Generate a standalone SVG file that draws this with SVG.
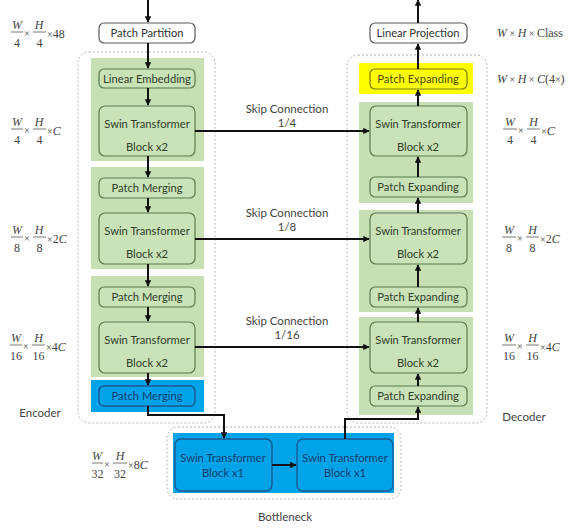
<svg xmlns="http://www.w3.org/2000/svg" width="580" height="529" viewBox="0 0 580 529">
<defs>
<marker id="ah" viewBox="0 0 10 10" refX="9" refY="5" markerWidth="3.2" markerHeight="3.2" orient="auto" markerUnits="strokeWidth">
<path d="M0,0 L10,5 L0,10 z" fill="#111"/>
</marker>
<style>
.bg{fill:#ffffff}
.dash{fill:none;stroke:#b4b4b4;stroke-width:1;stroke-dasharray:2 2}
.pg{fill:#c6e0b4}
.pb{fill:#00a2e8}
.py{fill:#ffff00}
.bw{fill:#ffffff;stroke:#595959;stroke-width:1.2}
.bgn{fill:#c9e2b8;stroke:#5a7a4e;stroke-width:1.2}
.bbl{fill:#00a2e8;stroke:#1c5a94;stroke-width:1.4}
.byl{fill:#ffff00;stroke:#7a7a10;stroke-width:1.2}
.t{font-family:Lato,"Liberation Sans",sans-serif;font-size:11.2px;fill:#333;text-anchor:middle}
.tg{fill:#2f3f2a}
.tb{fill:#0f3f70}
.ty{fill:#4a4a10}
.lab{font-family:Lato,"Liberation Sans",sans-serif;font-size:11.5px;fill:#444;text-anchor:middle}
.m{font-family:"Liberation Serif",serif;font-size:12px;fill:#444}
.mi{font-style:italic}
.mc{text-anchor:middle}
.x{font-size:10px}
.fb{stroke:#555;stroke-width:0.8}
.c{fill:none;stroke:#111;stroke-width:2;marker-end:url(#ah)}
</style>
</defs>
<rect class="bg" x="0" y="0" width="580" height="529"/>

<!-- containers -->
<g id="encoder-frame">
<rect class="dash" x="78" y="52" width="137" height="371" rx="11"/>
<text class="lab" x="40" y="417">Encoder</text>
</g>
<g id="decoder-frame">
<rect class="dash" x="347" y="55" width="140" height="368" rx="11"/>
<text class="lab" x="524" y="421">Decoder</text>
</g>
<g id="bottleneck-frame">
<rect class="dash" x="167" y="427" width="234" height="72" rx="11"/>
<rect class="pb" x="173" y="433" width="221" height="60"/>
<text class="lab" x="285" y="521">Bottleneck</text>
</g>

<!-- panels -->
<g id="enc-panels">
<rect class="pg" x="91" y="58" width="113" height="103"/>
<rect class="pg" x="91" y="167" width="113" height="102"/>
<rect class="pg" x="91" y="276" width="113" height="101"/>
<rect class="pb" x="91" y="380" width="113" height="32"/>
</g>
<g id="dec-panels">
<rect class="py" x="359" y="63" width="114" height="31"/>
<rect class="pg" x="359" y="102" width="114" height="101"/>
<rect class="pg" x="359" y="210" width="114" height="102"/>
<rect class="pg" x="359" y="317" width="114" height="98"/>
</g>

<!-- encoder nodes -->
<g id="patch-partition"><rect class="bw" x="99" y="23" width="96" height="20" rx="5"/><text class="t" x="147" y="37">Patch Partition</text></g>
<g id="linear-embedding"><rect class="bgn" x="99" y="69" width="96" height="19" rx="5"/><text class="t tg" x="147" y="82.5">Linear Embedding</text></g>
<g id="enc-swin1"><rect class="bgn" x="99" y="106" width="96" height="50" rx="6"/><text class="t tg" x="147" y="128">Swin Transformer</text><text class="t tg" x="147" y="151">Block x2</text></g>
<g id="enc-merge1"><rect class="bgn" x="99" y="178" width="96" height="20" rx="5"/><text class="t tg" x="147" y="192">Patch Merging</text></g>
<g id="enc-swin2"><rect class="bgn" x="99" y="213" width="96" height="51" rx="6"/><text class="t tg" x="147" y="235">Swin Transformer</text><text class="t tg" x="147" y="258">Block x2</text></g>
<g id="enc-merge2"><rect class="bgn" x="99" y="287" width="96" height="20" rx="5"/><text class="t tg" x="147" y="301">Patch Merging</text></g>
<g id="enc-swin3"><rect class="bgn" x="99" y="322" width="96" height="51" rx="6"/><text class="t tg" x="147" y="344">Swin Transformer</text><text class="t tg" x="147" y="367">Block x2</text></g>
<g id="enc-merge3"><rect class="bbl" x="99" y="386" width="96" height="20" rx="5"/><text class="t tb" x="147" y="400">Patch Merging</text></g>

<!-- bottleneck nodes -->
<g id="bottleneck-swin1"><rect class="bbl" x="175" y="439" width="97" height="52" rx="6"/><text class="t tb" x="223" y="462">Swin Transformer</text><text class="t tb" x="223" y="477">Block x1</text></g>
<g id="bottleneck-swin2"><rect class="bbl" x="297" y="439" width="96" height="52" rx="6"/><text class="t tb" x="345" y="462">Swin Transformer</text><text class="t tb" x="345" y="477">Block x1</text></g>

<!-- decoder nodes -->
<g id="linear-projection"><rect class="bw" x="370" y="23" width="97" height="20" rx="5"/><text class="t" x="418" y="37">Linear Projection</text></g>
<g id="dec-expand0"><rect class="byl" x="370" y="69" width="97" height="20" rx="5"/><text class="t ty" x="418" y="83">Patch Expanding</text></g>
<g id="dec-swin1"><rect class="bgn" x="370" y="106" width="97" height="50" rx="6"/><text class="t tg" x="418" y="128">Swin Transformer</text><text class="t tg" x="418" y="151">Block x2</text></g>
<g id="dec-expand1"><rect class="bgn" x="370" y="177" width="97" height="20" rx="5"/><text class="t tg" x="418" y="191">Patch Expanding</text></g>
<g id="dec-swin2"><rect class="bgn" x="370" y="213" width="97" height="51" rx="6"/><text class="t tg" x="418" y="235">Swin Transformer</text><text class="t tg" x="418" y="258">Block x2</text></g>
<g id="dec-expand2"><rect class="bgn" x="370" y="287" width="97" height="20" rx="5"/><text class="t tg" x="418" y="301">Patch Expanding</text></g>
<g id="dec-swin3"><rect class="bgn" x="370" y="322" width="97" height="51" rx="6"/><text class="t tg" x="418" y="344">Swin Transformer</text><text class="t tg" x="418" y="367">Block x2</text></g>
<g id="dec-expand3"><rect class="bgn" x="370" y="386" width="97" height="20" rx="5"/><text class="t tg" x="418" y="400">Patch Expanding</text></g>

<!-- connectors -->
<g id="connectors">
<path class="c" d="M148,0 V22"/>
<path class="c" d="M148,43 V68"/>
<path class="c" d="M148,88 V105"/>
<path class="c" d="M148,156 V177"/>
<path class="c" d="M148,198 V212"/>
<path class="c" d="M148,264 V286"/>
<path class="c" d="M148,307 V321"/>
<path class="c" d="M148,373 V385"/>
<path class="c" d="M148,406 V415 H224 V438"/>
<path class="c" d="M272,465 H296"/>
<path class="c" d="M345,439 V419 H418 V407"/>
<path class="c" d="M418,386 V374"/>
<path class="c" d="M418,322 V308"/>
<path class="c" d="M418,287 V265"/>
<path class="c" d="M418,213 V198"/>
<path class="c" d="M418,177 V157"/>
<path class="c" d="M418,106 V90"/>
<path class="c" d="M418,69 V44"/>
<path class="c" d="M418,23 V0"/>
<path class="c" d="M195,131 H369"/>
<path class="c" d="M195,239 H369"/>
<path class="c" d="M195,347 H369"/>
<text class="lab" x="287" y="113">Skip Connection</text>
<text class="lab" x="287" y="127">1/4</text>
<text class="lab" x="287" y="217">Skip Connection</text>
<text class="lab" x="287" y="231">1/8</text>
<text class="lab" x="287" y="325">Skip Connection</text>
<text class="lab" x="287" y="339">1/16</text>
</g>

<!-- dimension labels -->
<g id="dim-l1" transform="translate(11,34)">
<text class="m mi mc" x="6" y="-5">W</text><line class="fb" x1="0" y1="-2" x2="12" y2="-2"/><text class="m mc" x="6" y="13">4</text>
<text class="m x" x="13" y="3">×</text>
<text class="m mi mc" x="28" y="-5">H</text><line class="fb" x1="22" y1="-2" x2="35" y2="-2"/><text class="m mc" x="28.5" y="13">4</text>
<text class="m" x="36" y="4"><tspan class="x">×</tspan>48</text>
</g>
<g id="dim-l2" transform="translate(11,131)">
<text class="m mi mc" x="6" y="-5">W</text><line class="fb" x1="0" y1="-2" x2="12" y2="-2"/><text class="m mc" x="6" y="13">4</text>
<text class="m x" x="13" y="3">×</text>
<text class="m mi mc" x="28" y="-5">H</text><line class="fb" x1="22" y1="-2" x2="35" y2="-2"/><text class="m mc" x="28.5" y="13">4</text>
<text class="m" x="36" y="4"><tspan class="x">×</tspan><tspan class="mi">C</tspan></text>
</g>
<g id="dim-l3" transform="translate(11,239)">
<text class="m mi mc" x="6" y="-5">W</text><line class="fb" x1="0" y1="-2" x2="12" y2="-2"/><text class="m mc" x="6" y="13">8</text>
<text class="m x" x="13" y="3">×</text>
<text class="m mi mc" x="28" y="-5">H</text><line class="fb" x1="22" y1="-2" x2="35" y2="-2"/><text class="m mc" x="28.5" y="13">8</text>
<text class="m" x="36" y="4"><tspan class="x">×</tspan>2<tspan class="mi">C</tspan></text>
</g>
<g id="dim-l4" transform="translate(10,347)">
<text class="m mi mc" x="6" y="-5">W</text><line class="fb" x1="0" y1="-2" x2="12" y2="-2"/><text class="m mc" x="6" y="13">16</text>
<text class="m x" x="13" y="3">×</text>
<text class="m mi mc" x="28.5" y="-5">H</text><line class="fb" x1="22" y1="-2" x2="35" y2="-2"/><text class="m mc" x="28.5" y="13">16</text>
<text class="m" x="36" y="4"><tspan class="x">×</tspan>4<tspan class="mi">C</tspan></text>
</g>
<g id="dim-bottleneck" transform="translate(92,465)">
<text class="m mi mc" x="5" y="-5">W</text><line class="fb" x1="0" y1="-2" x2="11" y2="-2"/><text class="m mc" x="5.5" y="13">32</text>
<text class="m x" x="12" y="3">×</text>
<text class="m mi mc" x="28" y="-5">H</text><line class="fb" x1="21" y1="-2" x2="35" y2="-2"/><text class="m mc" x="28" y="13">32</text>
<text class="m" x="36" y="4"><tspan class="x">×</tspan>8<tspan class="mi">C</tspan></text>
</g>
<g id="dim-r1">
<text class="m" x="497" y="37"><tspan class="mi">W</tspan><tspan class="x"> × </tspan><tspan class="mi">H</tspan><tspan class="x"> × </tspan>Class</text>
</g>
<g id="dim-r2">
<text class="m" x="497" y="83"><tspan class="mi">W</tspan><tspan class="x"> × </tspan><tspan class="mi">H</tspan><tspan class="x"> × </tspan><tspan class="mi">C</tspan>(4<tspan class="x">×</tspan>)</text>
</g>
<g id="dim-r3" transform="translate(503,131)">
<text class="m mi mc" x="7" y="-5">W</text><line class="fb" x1="0" y1="-2" x2="14" y2="-2"/><text class="m mc" x="7" y="13">4</text>
<text class="m x" x="15" y="3">×</text>
<text class="m mi mc" x="30.5" y="-5">H</text><line class="fb" x1="24" y1="-2" x2="37" y2="-2"/><text class="m mc" x="30.5" y="13">4</text>
<text class="m" x="38" y="4"><tspan class="x">×</tspan><tspan class="mi">C</tspan></text>
</g>
<g id="dim-r4" transform="translate(502,239)">
<text class="m mi mc" x="7" y="-5">W</text><line class="fb" x1="0" y1="-2" x2="14" y2="-2"/><text class="m mc" x="7" y="13">8</text>
<text class="m x" x="15" y="3">×</text>
<text class="m mi mc" x="30.5" y="-5">H</text><line class="fb" x1="24" y1="-2" x2="37" y2="-2"/><text class="m mc" x="30.5" y="13">8</text>
<text class="m" x="38" y="4"><tspan class="x">×</tspan>2<tspan class="mi">C</tspan></text>
</g>
<g id="dim-r5" transform="translate(502,347)">
<text class="m mi mc" x="7" y="-5">W</text><line class="fb" x1="0" y1="-2" x2="14" y2="-2"/><text class="m mc" x="7" y="13">16</text>
<text class="m x" x="15" y="3">×</text>
<text class="m mi mc" x="30.5" y="-5">H</text><line class="fb" x1="24" y1="-2" x2="37" y2="-2"/><text class="m mc" x="30.5" y="13">16</text>
<text class="m" x="38" y="4"><tspan class="x">×</tspan>4<tspan class="mi">C</tspan></text>
</g>
</svg>
